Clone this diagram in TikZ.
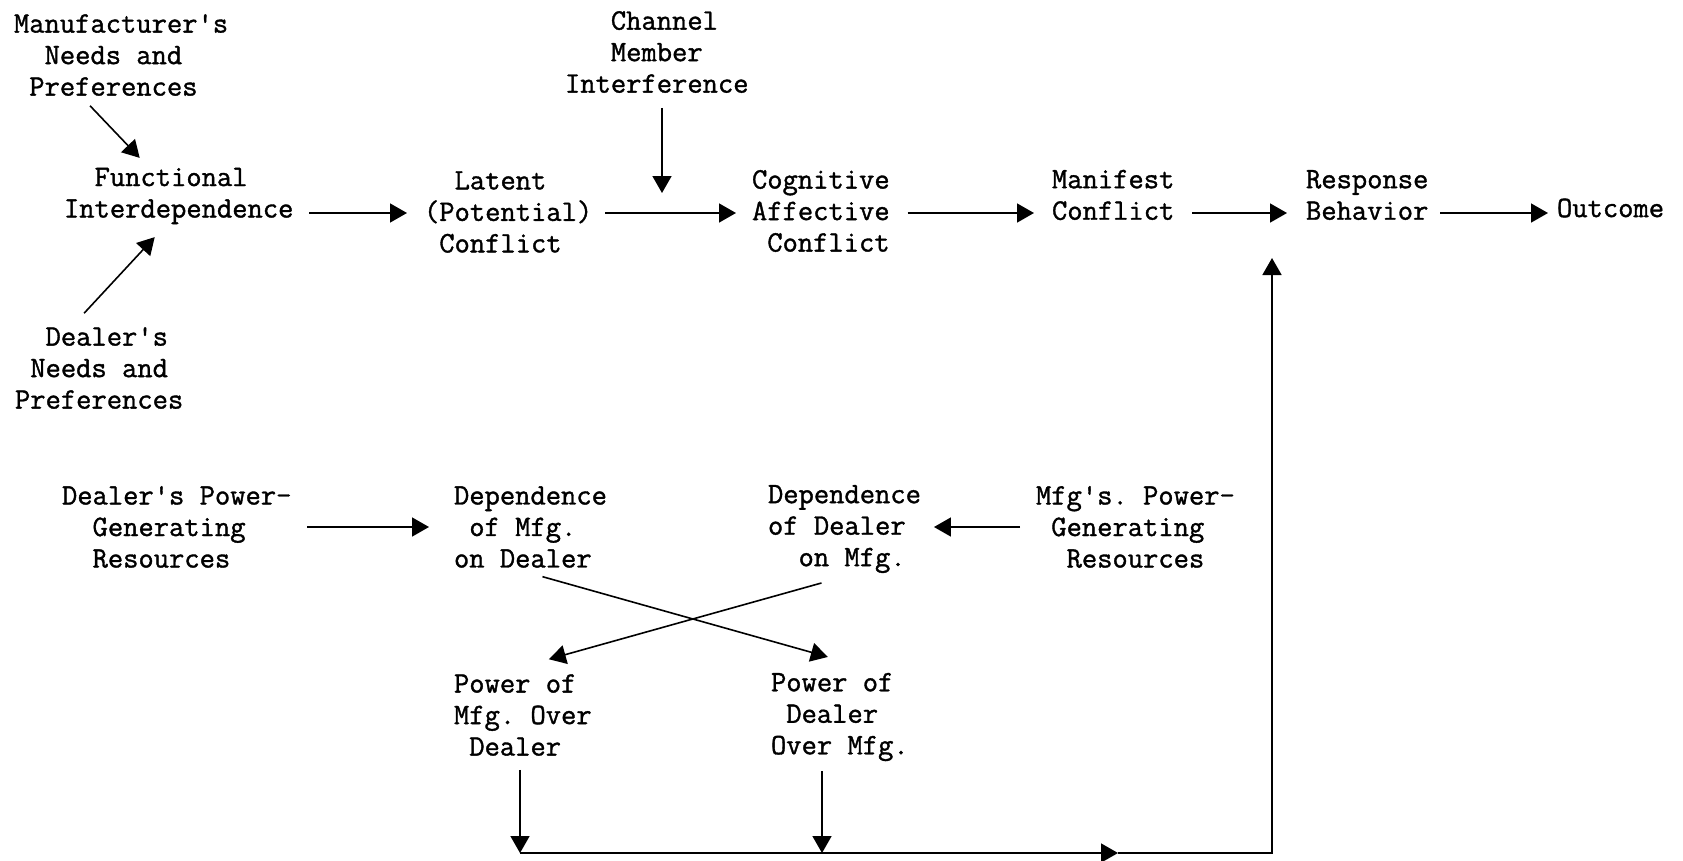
\documentclass[tikz,border=0pt]{standalone}
\usepackage{fontspec}
\newfontfamily\tw{Latin Modern Mono}[FakeBold=1.2]
\usetikzlibrary{arrows.meta}
\begin{document}
\begin{tikzpicture}[x=1pt,y=-1pt,
  lbl/.style={anchor=west,inner sep=0pt,outer sep=0pt,align=left,
    font=\tw\fontsize{29.7}{31.5}\selectfont\frenchspacing},
  arr/.style={line width=1.6pt,-{Triangle[length=17pt,width=19pt]}}]
\fill[white] (0,0) rectangle (1683,860);
\useasboundingbox (0,0) rectangle (1683,860);
% nodes
\node[lbl] (mfr) at (14,55) {Manufacturer's\\\hphantom{xx}Needs and\\\hphantom{x}Preferences};
\node[lbl] (dneeds) at (15,368) {\hphantom{xx}Dealer's\\\hphantom{x}Needs and\\Preferences};
\node[lbl] (func) at (64,196) {\hphantom{xx}Functional\\Interdependence};
\node[lbl] (latent) at (424,212) {\hphantom{xx}Latent\\(Potential)\\\hphantom{x}Conflict};
\node[lbl] (chan) at (565,52) {\hphantom{xxx}Channel\\\hphantom{xxx}Member\\Interference};
\node[lbl] (cog) at (752,211) {Cognitive\\Affective\\\hphantom{x}Conflict};
\node[lbl] (man) at (1052,195) {Manifest\\Conflict};
\node[lbl] (resp) at (1306,195) {Response\\Behavior};
\node[lbl] (out) at (1557,208) {Outcome};
\node[lbl] (dpow) at (62,527) {Dealer's Power-\\\hphantom{xx}Generating\\\hphantom{xx}Resources};
\node[lbl] (depm) at (454,527) {Dependence\\\hphantom{x}of Mfg.\\on Dealer};
\node[lbl] (depd) at (768,529) {Dependence\\of Dealer\\\hphantom{xx}on Mfg.};
\node[lbl] (mpow) at (1036,527) {Mfg's. Power-\\\hphantom{x}Generating\\\hphantom{xx}Resources};
\node[lbl] (powm) at (454,715) {Power of\\Mfg. Over\\\hphantom{x}Dealer};
\node[lbl] (powd) at (771,717) {Power of\\\hphantom{x}Dealer\\Over Mfg.};
% helper coordinates
\coordinate (row) at (0,213);
\coordinate (chanend) at (662,193);
\coordinate (b1) at (520,853);
\coordinate (b2) at (822,853);
\coordinate (bmid) at (1118,853);
\coordinate (bcorner) at (1272,853);
\coordinate (fbtip) at (1272,258);
% top connectors
\draw[arr] ([shift={(-31pt,-10pt)}]mfr.south) -- ([shift={(-39pt,10pt)}]func.north);
\draw[arr] ([shift={(-15pt,14pt)}]dneeds.north) -- ([shift={(-24pt,-13pt)}]func.south);
\draw[arr,shorten <=16pt,shorten >=17pt] (func.east |- row) -- (latent.west |- row);
\draw[arr,shorten <=13pt,shorten >=16pt] (latent.east |- row) -- (cog.west |- row);
\draw[arr,shorten <=18pt,shorten >=18pt] (cog.east |- row) -- (man.west |- row);
\draw[arr,shorten <=18pt,shorten >=19pt] (man.east |- row) -- (resp.west |- row);
\draw[arr,shorten <=12pt,shorten >=9pt] (resp.east |- row) -- (out.west |- row);
\draw[arr,shorten <=15pt] (chanend |- chan.south) -- (chanend);
% lower connectors
\draw[arr,shorten <=16pt,shorten >=25pt] (dpow.east |- depm.west) -- (depm.west);
\draw[arr,shorten <=16pt,shorten >=13pt] (mpow.west) -- (depd.east |- mpow.west);
\draw[arr] ([shift={(12pt,-9pt)}]depm.south) -- ([shift={(-12pt,16pt)}]powd.north);
\draw[arr] ([shift={(-23pt,-10pt)}]depd.south) -- ([shift={(26pt,15pt)}]powm.north);
\draw[arr,shorten <=14pt] (b1 |- powm.south) -- (b1);
\draw[arr,shorten <=10pt] (b2 |- powd.south) -- (b2);
\draw[arr] (b1) -- (bmid);
\draw[arr,line join=miter] (bmid) -- (bcorner) -- (fbtip);
\end{tikzpicture}
\end{document}
